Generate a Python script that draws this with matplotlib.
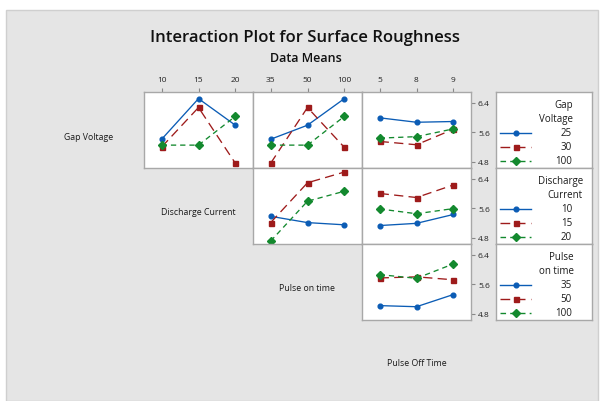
import numpy as np
import matplotlib
matplotlib.use("Agg")
from matplotlib import pyplot as plt
from matplotlib.patches import Rectangle

plt.rcParams['font.family'] = ['Open Sans', 'DejaVu Sans']

# factor levels
gap_levels = ['25', '30', '100']
dc_levels = ['10', '15', '20']
pon_levels = ['35', '50', '100']
poff_levels = ['5', '8', '9']

# data means (rows = trace level, cols = x level)
gv_by_dc = [[5.41, 6.51, 5.79], [5.20, 6.27, 4.76], [5.25, 5.25, 6.03]]
gv_by_pon = [[5.41, 5.79, 6.51], [4.76, 6.27, 5.19], [5.25, 5.25, 6.03]]
gv_by_poff = [[5.99, 5.87, 5.89], [5.35, 5.26, 5.68], [5.44, 5.48, 5.69]]
dc_by_pon = [[5.38, 5.21, 5.15], [5.21, 6.29, 6.58], [4.71, 5.79, 6.06]]
dc_by_poff = [[5.13, 5.19, 5.43], [6.00, 5.89, 6.23], [5.58, 5.45, 5.59]]
pon_by_poff = [[5.02, 4.99, 5.32], [5.77, 5.80, 5.72], [5.86, 5.76, 6.15]]

factor_names = ['Gap Voltage', 'Discharge Current', 'Pulse on time', 'Pulse Off Time']
legend_titles = [['Gap', 'Voltage'], ['Discharge', 'Current'], ['Pulse', 'on time']]
yticks = [4.8, 5.6, 6.4]

blue, red, green = '#0b5cb5', '#9e1b1b', '#13892e'
styles = [dict(color=blue, ls='-', marker='o', ms=3.4),
          dict(color=red, ls=(0, (7, 4)), marker='s', ms=3.6),
          dict(color=green, ls=(0, (4, 3)), marker='D', ms=3.6)]

W, H = 601, 402
fig = plt.figure(figsize=(W / 100, H / 100), dpi=100)
fig.patch.set_facecolor('white')
fig.patches.append(Rectangle((6 / W, 0), 592 / W, 1 - 11 / H, transform=fig.transFigure,
                             facecolor='#e5e5e5', edgecolor='#cfcfcf', lw=1, zorder=-10))


def px_axes(x0, y0, x1, y1):
    return fig.add_axes([x0 / W, 1 - y1 / H, (x1 - x0) / W, (y1 - y0) / H])


col_x = [(144, 253), (253, 362), (362, 471)]
row_y = [(93, 169), (169, 245), (245, 321)]
panels = {(0, 0): gv_by_dc, (0, 1): gv_by_pon, (0, 2): gv_by_poff,
          (1, 1): dc_by_pon, (1, 2): dc_by_poff, (2, 2): pon_by_poff}
x_levels = [dc_levels, pon_levels, poff_levels]

for (r, c), means in panels.items():
    ax = px_axes(col_x[c][0], row_y[r][0], col_x[c][1], row_y[r][1])
    ax.set_facecolor('white')
    for k, vals in enumerate(means):
        ax.plot(range(3), vals, lw=0.95, **styles[k])
    ax.set_xlim(-0.48, 2.48)
    ax.set_ylim(4.63, 6.69)
    for s in ax.spines.values():
        s.set_color('#a8a8a8')
        s.set_linewidth(1)
    ax.tick_params(colors='#888888', labelcolor='#222222', labelsize=6, length=3, width=0.8)
    if r == 0:
        ax.xaxis.tick_top()
        ax.set_xticks(range(3), x_levels[c])
    else:
        ax.set_xticks([])
    if c == 2:
        ax.yaxis.tick_right()
        ax.set_yticks(yticks, [f'{v:.1f}' for v in yticks])
        ax.tick_params(axis='y', pad=2)
    else:
        ax.set_yticks([])

# diagonal factor names
label_pos = [(89, 138), (198, 213), (307, 289), (417, 364)]
for name, (x, y) in zip(factor_names, label_pos):
    fig.text(x / W, 1 - y / H, name, ha='center', va='center', fontsize=6.3, color='#1a1a1a')

# legends
leg_levels = [gap_levels, dc_levels, pon_levels]
title_right = [573, 583, 574]
for r in range(3):
    y0, y1 = row_y[r]
    lax = px_axes(496, y0, 592, y1)
    lax.set_xlim(496, 592)
    lax.set_ylim(y1, y0)
    lax.set_xticks([])
    lax.set_yticks([])
    for s in lax.spines.values():
        s.set_color('#a8a8a8')
        s.set_linewidth(1)
    for i, t in enumerate(legend_titles[r]):
        lax.text(title_right[r], y0 + 13 + 13.5 * i, t, ha='right', va='center',
                 fontsize=7, color='#1a1a1a')
    for k, lev in enumerate(leg_levels[r]):
        yy = y0 + 41 + 13.8 * k
        st = styles[k]
        lax.plot([500, 531], [yy, yy], color=st['color'], ls=st['ls'], lw=1.0)
        lax.plot([515.5], [yy], color=st['color'], marker=st['marker'], ms=st['ms'], ls='none')
        lax.text(572, yy, lev, ha='right', va='center', fontsize=7, color='#1a1a1a')

fig.text(305.5 / W, 1 - 38 / H, 'Interaction Plot for Surface Roughness', ha='center', va='center',
         fontsize=12, fontweight='semibold', color='#111111')
fig.text(305.5 / W, 1 - 58 / H, 'Data Means', ha='center', va='center',
         fontsize=9, fontweight='semibold', color='#111111')

fig.savefig('out.png', dpi=100)
